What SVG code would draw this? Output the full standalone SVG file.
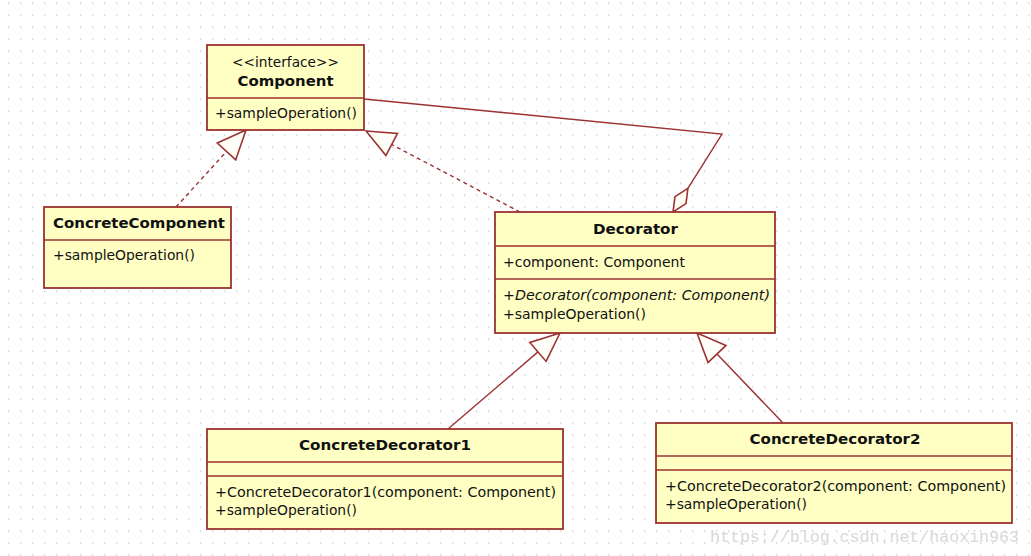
<svg xmlns="http://www.w3.org/2000/svg" width="1031" height="556" viewBox="0 0 1031 556">
<style>
.box{fill:#ffffc4;stroke:#9c3131;stroke-width:1.8}
.div{stroke:#9c3131;stroke-width:1.6;fill:none}
.t{font-family:"DejaVu Sans","Liberation Sans",sans-serif;font-size:14.5px;fill:#111}
.b{font-weight:bold}
.c{text-anchor:middle}
.i{font-style:italic}
.ln{stroke:#9c3131;stroke-width:1.4;fill:none}
.dash{stroke-dasharray:4 3.5}
.head{fill:#fffff8;stroke:#9c3131;stroke-width:1.6;stroke-linejoin:miter}
.wm{font-family:"Liberation Mono","DejaVu Sans Mono",monospace;font-size:17px;fill:#d8d8d8}
</style>
<defs>
<pattern id="grid" x="8" y="2.5" width="12" height="12" patternUnits="userSpaceOnUse">
<rect x="0" y="0" width="1.3" height="1.3" fill="#c6c6c6"/>
</pattern>
</defs>
<rect width="1031" height="556" fill="#ffffff"/>
<rect width="1031" height="556" fill="url(#grid)"/>

<g id="connectors">
<!-- ConcreteComponent realizes Component -->
<line class="ln dash" x1="176" y1="207" x2="226.5" y2="151.5"/>
<polygon class="head" points="246,130 235.7,159.9 217.3,143.1"/>
<!-- Decorator realizes Component -->
<line class="ln dash" x1="520" y1="212" x2="391.7" y2="144.5"/>
<polygon class="head" points="366,131 397.5,133.4 385.9,155.6"/>
<!-- Aggregation -->
<polyline class="ln" points="364,99 722,134 687.9,188.3"/>
<polygon class="head" points="673,212 675,196.6 687.9,188.3 686,203.6"/>
<!-- ConcreteDecorator1 extends Decorator -->
<line class="ln" x1="448" y1="429" x2="538" y2="351.9"/>
<polygon class="head" points="560,333 546.1,361.4 529.9,342.4"/>
<!-- ConcreteDecorator2 extends Decorator -->
<line class="ln" x1="783" y1="423" x2="717" y2="354"/>
<polygon class="head" points="697,333 726,345.4 708,362.6"/>
</g>

<g id="Component">
<rect class="box" x="207" y="45" width="157" height="85"/>
<line class="div" x1="207" y1="98" x2="364" y2="98"/>
<text class="t c" x="285.5" y="67" textLength="107" lengthAdjust="spacingAndGlyphs">&lt;&lt;interface&gt;&gt;</text>
<text class="t b c" x="285.5" y="86" textLength="96" lengthAdjust="spacingAndGlyphs">Component</text>
<text class="t" x="215" y="118" textLength="142" lengthAdjust="spacingAndGlyphs">+sampleOperation()</text>
</g>

<g id="ConcreteComponent">
<rect class="box" x="44" y="207" width="187" height="81"/>
<line class="div" x1="44" y1="240" x2="231" y2="240"/>
<text class="t b" x="53" y="228" textLength="172" lengthAdjust="spacingAndGlyphs">ConcreteComponent</text>
<text class="t" x="53" y="260" textLength="142" lengthAdjust="spacingAndGlyphs">+sampleOperation()</text>
</g>

<g id="Decorator">
<rect class="box" x="495" y="212" width="280" height="121"/>
<line class="div" x1="495" y1="246" x2="775" y2="246"/>
<line class="div" x1="495" y1="279" x2="775" y2="279"/>
<text class="t b c" x="635.5" y="234" textLength="85" lengthAdjust="spacingAndGlyphs">Decorator</text>
<text class="t" x="503" y="267" textLength="182" lengthAdjust="spacingAndGlyphs">+component: Component</text>
<text class="t i" x="503" y="300" textLength="267" lengthAdjust="spacingAndGlyphs">+Decorator(component: Component)</text>
<text class="t" x="503" y="319" textLength="143" lengthAdjust="spacingAndGlyphs">+sampleOperation()</text>
</g>

<g id="ConcreteDecorator1">
<rect class="box" x="207" y="429" width="356" height="100"/>
<line class="div" x1="207" y1="462" x2="563" y2="462"/>
<line class="div" x1="207" y1="476" x2="563" y2="476"/>
<text class="t b c" x="385" y="450" textLength="172" lengthAdjust="spacingAndGlyphs">ConcreteDecorator1</text>
<text class="t" x="215" y="497" textLength="341" lengthAdjust="spacingAndGlyphs">+ConcreteDecorator1(component: Component)</text>
<text class="t" x="215" y="515" textLength="142" lengthAdjust="spacingAndGlyphs">+sampleOperation()</text>
</g>

<g id="ConcreteDecorator2">
<rect class="box" x="656" y="423" width="356" height="100"/>
<line class="div" x1="656" y1="456" x2="1012" y2="456"/>
<line class="div" x1="656" y1="470" x2="1012" y2="470"/>
<text class="t b c" x="835" y="444" textLength="171" lengthAdjust="spacingAndGlyphs">ConcreteDecorator2</text>
<text class="t" x="665" y="491" textLength="341" lengthAdjust="spacingAndGlyphs">+ConcreteDecorator2(component: Component)</text>
<text class="t" x="665" y="509" textLength="142" lengthAdjust="spacingAndGlyphs">+sampleOperation()</text>
</g>

<text class="wm" x="710" y="542" textLength="309" lengthAdjust="spacingAndGlyphs">https://blog.csdn.net/haoxin963</text>
</svg>
